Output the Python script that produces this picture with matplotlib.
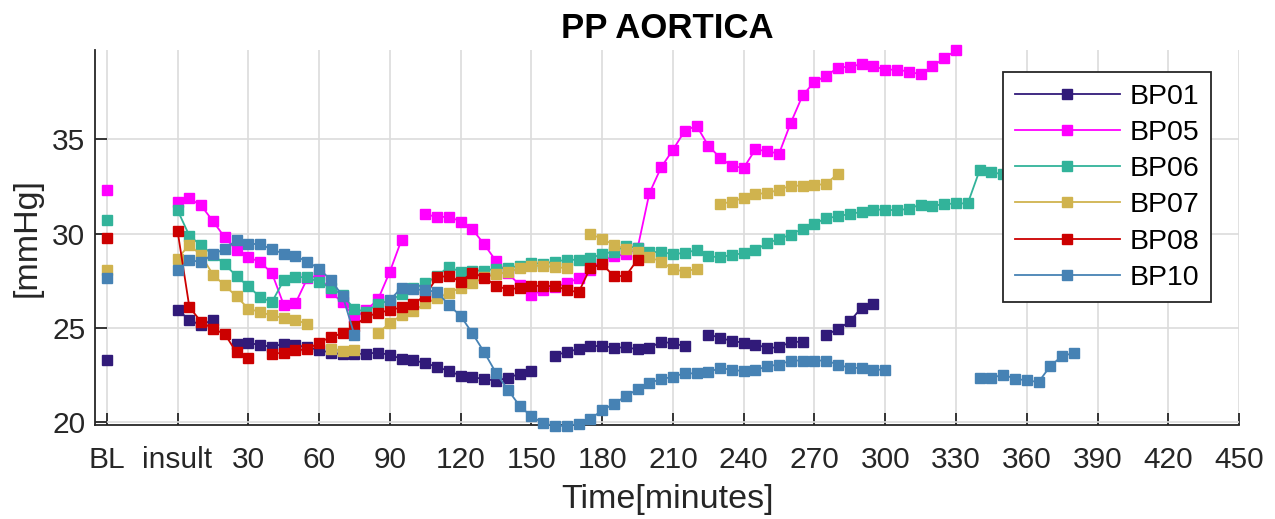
import numpy as np
import matplotlib
matplotlib.use('Agg')
import matplotlib.pyplot as plt

nan = np.nan

# sample times after insult, every 5 minutes; baseline drawn at BL_POS
BL_POS = -30
STEP = 5

bl_values = {'BP01': 23.29, 'BP05': 32.33, 'BP06': 30.74,
             'BP07': 28.09, 'BP08': 29.77, 'BP10': 27.67}

bp01 = [25.98, 25.43, 25.15, 25.45, nan, 24.18, 24.23, 24.09, 24.02, 24.16,
        24.09, 23.99, 23.83, 23.70, 23.61, 23.62, 23.65, 23.70, 23.58, 23.37,
        23.29, 23.15, 22.94, 22.73, 22.48, 22.41, 22.29, 22.22, 22.36, 22.58,
        22.72, nan, 23.54, 23.75, 23.88, 24.05, 24.05, 23.96, 23.98, 23.88,
        23.96, 24.26, 24.21, 24.03, nan, 24.66, 24.49, 24.31, 24.23, 24.13,
        23.95, 23.98, 24.27, 24.27, nan, 24.65, 24.94, 25.35, 26.09, 26.28]

bp05 = [31.69, 31.87, 31.50, 30.67, 29.81, 29.12, 28.76, 28.50, 27.92, 26.24,
        26.32, 27.63, 27.81, 26.89, 26.36, 25.57, 25.95, 26.52, 27.99, 29.69,
        nan, 31.05, 30.88, 30.91, 30.65, 30.24, 29.44, 28.56, 27.90, 27.30,
        26.74, 27.03, 27.17, 27.40, 27.63, 28.10, 28.60, 28.80, 28.92, 29.22,
        32.14, 33.52, 34.45, 35.45, 35.73, 34.67, 34.03, 33.59, 33.49, 34.48,
        34.37, 34.25, 35.89, 37.34, 38.05, 38.37, 38.81, 38.86, 38.99, 38.88,
        38.70, 38.70, 38.60, 38.45, 38.87, 39.31, 39.72]

bp06 = [31.25, 29.90, 29.38, 28.90, 28.38, 27.76, 27.21, 26.65, 26.38, 27.53,
        27.70, 27.70, 27.43, 27.15, 26.75, 26.00, 25.87, 26.30, 26.45, 26.80,
        27.10, 27.37, 27.75, 28.26, 27.97, 28.05, 28.05, 28.15, 28.21, 28.29,
        28.44, 28.42, 28.53, 28.62, 28.62, 28.71, 28.92, 29.06, 29.36, 29.24,
        29.06, 29.01, 28.94, 28.97, 29.15, 28.80, 28.76, 28.88, 28.97, 29.15,
        29.50, 29.73, 29.96, 30.27, 30.53, 30.83, 30.92, 31.06, 31.15, 31.28,
        31.28, 31.24, 31.33, 31.55, 31.48, 31.57, 31.61, 31.61, 33.36, 33.27,
        33.15]

bp07 = [28.67, 29.43, 28.85, 27.84, 27.26, 26.68, 26.03, 25.85, 25.67, 25.53,
        25.41, 25.24, nan, 23.91, 23.79, 23.86, nan, 24.72, 25.28, 25.68,
        25.90, 26.31, 26.57, 26.87, 27.14, 27.37, 27.69, 27.87, 27.96, 28.17,
        28.29, 28.31, 28.23, 28.18, nan, 30.00, 29.72, 29.42, 29.19, 29.06,
        28.76, 28.53, 28.12, 28.00, 28.14, nan, 31.58, 31.70, 31.91, 32.12,
        32.15, 32.34, 32.55, 32.55, 32.57, 32.65, 33.19]

bp08 = [30.16, 26.12, 25.33, 24.96, 24.69, 23.71, 23.44, nan, 23.63, 23.70,
        23.83, 23.87, 24.23, 24.53, 24.72, 25.13, 25.60, 25.81, 25.95, 26.10,
        26.29, 26.72, 27.69, 27.77, 27.46, 27.94, 27.68, 27.25, 27.04, 27.14,
        27.24, 27.24, 27.22, 27.03, 26.89, 28.20, 28.38, 27.76, 27.76, 28.63]

bp10 = [28.07, 28.60, 28.51, 28.91, 29.20, 29.66, 29.48, 29.44, 29.18, 28.94,
        28.81, 28.52, 28.15, 27.55, 26.70, 24.63, nan, nan, 26.48, 27.15,
        27.07, 27.00, 26.93, 26.22, 25.65, 24.72, 23.72, 22.63, 21.74, 20.88,
        20.32, 19.96, 19.82, 19.82, 19.93, 20.19, 20.64, 20.99, 21.38, 21.76,
        22.11, 22.28, 22.43, 22.60, 22.60, 22.68, 22.87, 22.80, 22.71, 22.77,
        22.98, 23.07, 23.28, 23.28, 23.28, 23.28, 23.06, 22.89, 22.89, 22.80,
        22.79, nan, nan, nan, nan, nan, nan, nan, 22.35, 22.35,
        22.54, 22.31, 22.23, 22.14, 22.99, 23.52, 23.68]

series = {'BP01': bp01, 'BP05': bp05, 'BP06': bp06,
          'BP07': bp07, 'BP08': bp08, 'BP10': bp10}
colors = {'BP01': '#311a79', 'BP05': '#ff00ff', 'BP06': '#32b39a',
          'BP07': '#d0b34e', 'BP08': '#cc0000', 'BP10': '#4682b4'}

xticks = [BL_POS, 0] + list(range(30, 451, 30))
xticklabels = ['BL', 'insult'] + [str(v) for v in range(30, 451, 30)]
yticks = [20, 25, 30, 35]

TXT = '#262626'


def plot_pp():
    plt.rcParams['font.family'] = ['Liberation Sans', 'DejaVu Sans']
    fig = plt.figure(figsize=(12.75, 5.19), dpi=100)
    ax = fig.add_axes([0.0745, 0.181, 0.8973, 0.7226])

    for name, vals in series.items():
        t = np.arange(len(vals)) * STEP
        ax.plot(t, vals, '-s', color=colors[name], lw=1.3, ms=7,
                mec=colors[name], label=name, clip_on=False, zorder=3)
        ax.plot([BL_POS], [bl_values[name]], 's', color=colors[name], ms=7,
                clip_on=False, zorder=3)

    ax.set_xlim(-35, 450)
    ax.set_ylim(19.86, 39.74)
    ax.set_xticks(xticks)
    ax.set_xticklabels(xticklabels)
    ax.set_yticks(yticks)
    ax.grid(True, color='#dcdcdc', lw=1.2)
    ax.set_axisbelow(True)
    ax.tick_params(direction='in', length=8.5, width=1.3, labelsize=21.5,
                   colors=TXT)
    ax.tick_params(axis='x', pad=15)
    ax.tick_params(axis='y', pad=7)
    for side in ['top', 'right']:
        ax.spines[side].set_visible(False)
    for side in ['left', 'bottom']:
        ax.spines[side].set_color(TXT)
        ax.spines[side].set_linewidth(1.3)

    ax.set_xlabel('Time[minutes]', fontsize=24.5, color=TXT, labelpad=7)
    ax.set_ylabel('[mmHg]', fontsize=24.5, color=TXT, labelpad=7)
    ax.set_title('PP AORTICA', fontsize=25, fontweight='bold', color='black', pad=9)

    leg = ax.legend(loc='upper right', bbox_to_anchor=(0.9498, 0.8607),
                    bbox_transform=fig.transFigure, borderaxespad=0,
                    fontsize=20.5, handlelength=3.7, handletextpad=0.35,
                    labelspacing=0.36, fancybox=False, framealpha=1,
                    edgecolor=TXT, borderpad=0.4)
    leg.get_frame().set_linewidth(1.3)

    fig.savefig('out.png', dpi=100)


def main():
    plot_pp()


if __name__ == '__main__':
    main()
